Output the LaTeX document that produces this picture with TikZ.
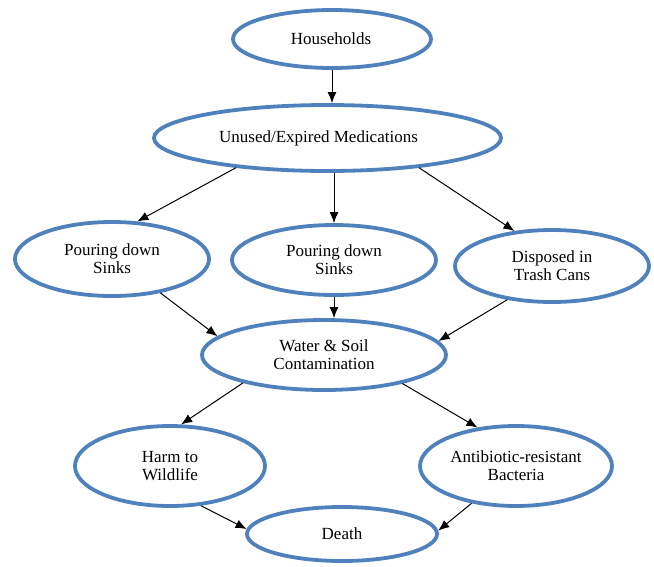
\documentclass[tikz,border=0pt]{standalone}
\usepackage{fontspec}
\setmainfont{Liberation Serif}
\usetikzlibrary{shapes.geometric,arrows.meta}
\definecolor{ellblue}{RGB}{79,129,189}
\tikzset{
  oval/.style={ellipse, draw=ellblue, line width=3.8pt, inner sep=0pt, align=center,
    font=\fontsize{17}{18}\selectfont, text=black},
  arr/.style={draw=black, line width=1pt, -{Latex[length=11pt,width=9pt]}}
}
\begin{document}
\begin{tikzpicture}[x=1pt,y=-1pt]
\useasboundingbox (0,0) rectangle (654,566);
\node[oval, minimum width=198pt, minimum height=58pt] (H) at (332,39) {\hspace*{-2pt}Households};
\node[oval, minimum width=347pt, minimum height=66pt] (U) at (327.5,138) {\hspace*{-18pt}Unused/Expired Medications};
\node[oval, minimum width=194pt, minimum height=74pt] (LS) at (112,259) {Pouring down\\Sinks};
\node[oval, minimum width=204pt, minimum height=70pt] (MS) at (334,260) {Pouring down\\Sinks};
\node[oval, minimum width=194pt, minimum height=72pt] (T) at (552,266) {Disposed in\\Trash Cans};
\node[oval, minimum width=244pt, minimum height=70pt] (W) at (324,355) {Water \& Soil\\Contamination};
\node[oval, minimum width=190pt, minimum height=80pt] (HW) at (170,466) {Harm to\\Wildlife};
\node[oval, minimum width=192pt, minimum height=80pt] (AB) at (516,466) {Antibiotic-resistant\\Bacteria};
\node[oval, minimum width=190pt, minimum height=54pt] (D) at (342,534) {Death};

\draw[arr] (H.south) -- (H.south |- U.north);
\draw[arr] (U.198) -- (LS.56);
\draw[arr] (MS.north |- U.south) -- (MS.north);
\draw[arr] (U.342) -- (T.137);
\draw[arr] (LS.-35) -- (W.170);
\draw[arr] (MS.south) -- (MS.south |- W.north);
\draw[arr] (T.217) -- (W.7);
\draw[arr] (W.199) -- (HW.75);
\draw[arr] (W.340) -- (AB.135);
\draw[arr] (HW.-52) -- (D.177);
\draw[arr] (AB.220) -- (D.2.5);
\end{tikzpicture}
\end{document}
